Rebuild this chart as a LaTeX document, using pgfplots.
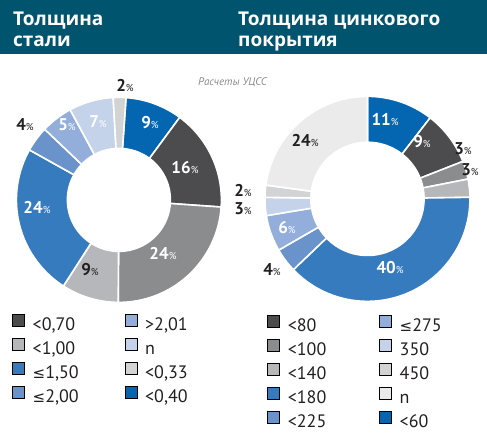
\documentclass[border=0pt]{standalone}
\usepackage{pgfplots}
\pgfplotsset{compat=1.18}
\usepackage{pgfplotstable}
\usepackage{fontspec}
\setmainfont{PT Sans}
\newfontfamily\headfont{Open Sans}
\newfontfamily\symfont{DejaVu Sans}
\definecolor{cDG}{HTML}{4C4C4E}
\definecolor{cMG}{HTML}{8B8C8E}
\definecolor{cLG}{HTML}{B6B7BA}
\definecolor{cPG}{HTML}{D2D3D5}
\definecolor{cVG}{HTML}{EBEBEB}
\definecolor{cSB}{HTML}{0465B1}
\definecolor{cBL}{HTML}{377BBF}
\definecolor{cMB}{HTML}{6A92CB}
\definecolor{cLB}{HTML}{94AEDB}
\definecolor{cVB}{HTML}{C5D3EA}
\definecolor{head}{HTML}{01546E}
\definecolor{txt}{HTML}{231F20}
\definecolor{note}{HTML}{8A8A8A}

% slices clockwise from 12 o'clock
\pgfplotstableread{
value color
9  cSB
16 cDG
24 cMG
9  cLG
24 cBL
4  cMB
5  cLB
7  cVB
2  cPG
}\steeltable
\pgfplotstableread{
value color
11 cSB
9  cDG
3  cMG
3  cLG
40 cBL
4  cMB
6  cLB
3  cVB
2  cPG
24 cVG
}\zinctable

\newcommand\drawdonut[3]{% table, start offset (deg), hole radius
  \pgfplotstablegetrowsof{#1}\pgfmathtruncatemacro\dN{\pgfplotsretval-1}
  \xdef\dTot{0}
  \pgfplotsforeachungrouped \i in {0,...,\dN}{%
    \pgfplotstablegetelem{\i}{value}\of#1\let\dV\pgfplotsretval
    \pgfmathsetmacro\dT{\dTot+\dV}\xdef\dTot{\dT}}
  \xdef\dCum{0}
  \pgfplotsforeachungrouped \i in {0,...,\dN}{%
    \pgfplotstablegetelem{\i}{value}\of#1\let\dV\pgfplotsretval
    \pgfplotstablegetelem{\i}{color}\of#1\let\dCol\pgfplotsretval
    \pgfmathsetmacro\dA{#2+360*(\dCum/\dTot)}
    \pgfmathsetmacro\dB{#2+360*((\dCum+\dV)/\dTot)}
    \edef\dTemp{\noexpand\addplot[fill=\dCol, draw=white, line width=1.6pt,
      domain=\dA:\dB, samples=60, forget plot]
      ({sin(x)},{cos(x)}) -- (axis cs:0,0) -- cycle;}
    \dTemp
    \pgfmathsetmacro\dC{\dCum+\dV}\xdef\dCum{\dC}}
  \addplot[fill=white, draw=none, domain=0:360, samples=160, forget plot]
    ({#3*sin(x)},{#3*cos(x)}) -- cycle;
}
\newcommand\lbl[1]{{\fontsize{17}{17}\selectfont\bfseries #1}{\fontsize{10}{10}\selectfont\%}}
\newcommand\lesym{{\symfont\fontsize{15}{18}\selectfont ≤}}

\pgfplotsset{donut/.style={
  width=205pt, height=205pt, scale only axis,
  xmin=-1, xmax=1, ymin=-1, ymax=1, hide axis, clip=false,
  anchor=center,
  legend image code/.code={\fill[##1] (0pt,-1pt) rectangle (12pt,11pt);},
  legend cell align=left,
  legend columns=2,
  legend style={draw=none, fill=none, inner sep=0pt, outer sep=0pt,
    anchor=north west, font=\fontsize{18}{20}\selectfont, text=txt,
    row sep=4.8pt,
    nodes={inner sep=0pt, text height=13pt, text depth=3pt},
    /tikz/every odd column/.append style={column sep=8pt}},
}}

\begin{document}
\begin{tikzpicture}[x=1pt,y=1pt]
\path[use as bounding box] (0,0) rectangle (487,-432);
\fill[head] (0,0) rectangle (487,-54);
\begin{scope}[every node/.style={text=white, inner sep=0pt, anchor=base west,
    font=\headfont\bfseries\fontsize{19}{22}\selectfont}]
\node at (13,-25) {Толщина};
\node at (13,-46.7) {стали};
\node at (238,-25) {Толщина цинкового};
\node at (238,-46.7) {покрытия};
\end{scope}
\node[anchor=west, inner sep=0pt, text=note, font=\itshape\fontsize{11}{12}\selectfont] at (198,-82) {Расчеты УЦСС};

% left donut
\begin{axis}[donut, at={(116,-195)},
  legend style={at={(-0.02,-0.059)},
  /tikz/every even column/.append style={column sep=46pt}}]
\drawdonut{\steeltable}{4}{0.51}
\addlegendimage{fill=cDG}\addlegendentry{<0,70}
\addlegendimage{fill=cLB}\addlegendentry{>2,01}
\addlegendimage{fill=cLG}\addlegendentry{<1,00}
\addlegendimage{fill=cVB}\addlegendentry{n}
\addlegendimage{fill=cBL}\addlegendentry{\lesym1,50}
\addlegendimage{fill=cPG}\addlegendentry{<0,33}
\addlegendimage{fill=cMB}\addlegendentry{\lesym2,00}
\addlegendimage{fill=cSB}\addlegendentry{<0,40}
\end{axis}

% right donut
\begin{axis}[donut, at={(358.5,-194)},
  legend style={at={(0.012,-0.066)},
  /tikz/every even column/.append style={column sep=53pt}}]
\drawdonut{\zinctable}{0}{0.56}
\addlegendimage{fill=cDG}\addlegendentry{<80}
\addlegendimage{fill=cLB}\addlegendentry{\lesym275}
\addlegendimage{fill=cMG}\addlegendentry{<100}
\addlegendimage{fill=cVB}\addlegendentry{350}
\addlegendimage{fill=cLG}\addlegendentry{<140}
\addlegendimage{fill=cPG}\addlegendentry{450}
\addlegendimage{fill=cBL}\addlegendentry{<180}
\addlegendimage{fill=cVG}\addlegendentry{n}
\addlegendimage{fill=cMB}\addlegendentry{<225}
\addlegendimage{fill=cSB}\addlegendentry{<60}
\end{axis}

% percentage labels
\begin{scope}[every node/.style={inner sep=0pt, anchor=center}]
\node[text=txt]   at (125,-85)  {\lbl{2}};
\node[text=white] at (150,-123) {\lbl{9}};
\node[text=white] at (185,-168) {\lbl{16}};
\node[text=white] at (163,-253) {\lbl{24}};
\node[text=txt]   at (90,-270)  {\lbl{9}};
\node[text=white] at (37,-207)  {\lbl{24}};
\node[text=txt]   at (25,-125)  {\lbl{4}};
\node[text=white] at (67,-125)  {\lbl{5}};
\node[text=white] at (98,-122)  {\lbl{7}};
\node[text=white] at (385,-120) {\lbl{11}};
\node[text=white] at (422,-142) {\lbl{9}};
\node[text=txt]   at (463,-149) {\lbl{3}};
\node[text=txt]   at (470,-170) {\lbl{3}};
\node[text=white] at (390,-268) {\lbl{40}};
\node[text=txt]   at (272,-270) {\lbl{4}};
\node[text=white] at (287,-228) {\lbl{6}};
\node[text=txt]   at (243,-209) {\lbl{3}};
\node[text=txt]   at (243,-190) {\lbl{2}};
\node[text=txt]   at (305,-140) {\lbl{24}};
\end{scope}
\end{tikzpicture}
\end{document}
